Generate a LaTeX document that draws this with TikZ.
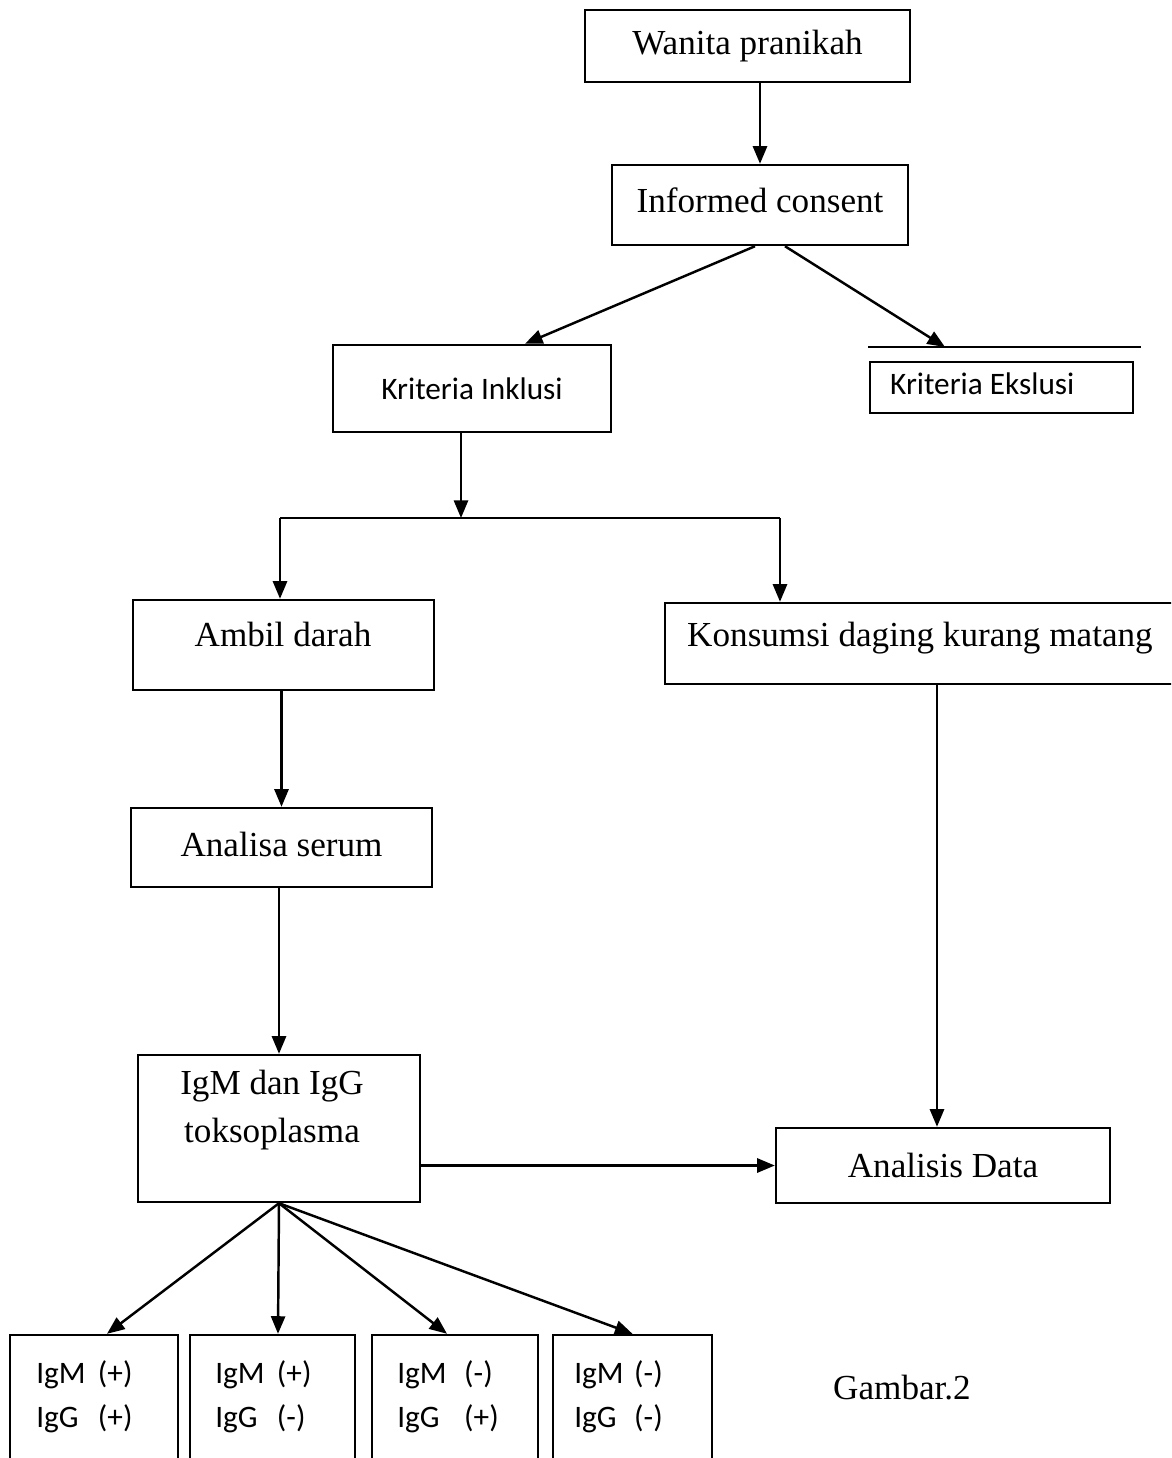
\documentclass[tikz,border=0pt]{standalone}
\usepackage{fontspec}
\setmainfont{Liberation Serif}
\newfontfamily\calib{Carlito}
\usetikzlibrary{arrows.meta}
\begin{document}
\begin{tikzpicture}[x=0.02cm,y=-0.02cm,
  box/.style={draw, line width=1.4pt, inner sep=0pt},
  serif/.style={font=\fontsize{20}{27}\selectfont},
  sans/.style={font=\calib\fontsize{17.8}{25}\selectfont},
  arr/.style={-{Triangle[length=10pt,width=8pt]}, line width=1.4pt},
  ln/.style={line width=1.4pt}]
\clip (0,0) rectangle (1171,1458);
\fill[white] (0,0) rectangle (1171,1458);
% boxes
\node[box, serif, minimum width=6.5cm, minimum height=1.44cm] (w) at (747.5,46) {Wanita pranikah};
\node[box, serif, minimum width=5.92cm, minimum height=1.6cm] (ic) at (760,205) {\raisebox{5pt}{Informed consent}};
\node[box, sans, minimum width=5.56cm, minimum height=1.74cm] (ki) at (472,388.5) {\raisebox{-5pt}{Kriteria Inklusi}};
\node[box, minimum width=5.26cm, minimum height=1.02cm] (ke) at (1001.5,387.5) {};
\node[sans, anchor=west] (ket) at (884,384) {Kriteria Ekslusi};
\coordinate (kel1) at (868,347);
\coordinate (kel2) at (1141,347);
\coordinate (kea) at (945,347);
\draw[ln] (kel1) -- (kel2);
\node[box, minimum width=6.02cm, minimum height=1.8cm] (am) at (283.5,645) {};
\node[serif] (amt) at (283,634) {Ambil darah};
\node[box, minimum width=10.5cm, minimum height=1.62cm] (ko) at (927.5,643.5) {};
\node[serif] (kot) at (920,638) {Konsumsi daging kurang matang};
\node[box, serif, minimum width=6.02cm, minimum height=1.58cm] (an) at (281.5,847.5) {\raisebox{4pt}{Analisa serum}};
\node[box, minimum width=5.64cm, minimum height=2.94cm] (ig) at (279,1128.5) {};
\node[serif, align=center] (igt) at (272,1110) {IgM dan IgG\\toksoplasma};
\node[box, serif, minimum width=6.68cm, minimum height=1.5cm] (ad) at (943,1165.5) {Analisis Data};
% bottom boxes
\node[box, minimum width=3.36cm, minimum height=2.9cm] (b1) at (94,1407.5) {};
\node[box, minimum width=3.3cm, minimum height=2.9cm] (b2) at (272.5,1407.5) {};
\node[box, minimum width=3.32cm, minimum height=2.9cm] (b3) at (455,1407.5) {};
\node[box, minimum width=3.18cm, minimum height=2.9cm] (b4) at (632.5,1407.5) {};
\node[sans, anchor=north west, inner sep=0pt] (t1) at (36,1352) {\begin{tabular}{@{}l@{\hspace{7pt}}l@{}}IgM & (+)\\ IgG & (+)\end{tabular}};
\node[sans, anchor=north west, inner sep=0pt] (t2) at (215,1352) {\begin{tabular}{@{}l@{\hspace{6pt}}l@{}}IgM & (+)\\ IgG\hspace{5pt} & (-)\end{tabular}};
\node[sans, anchor=north west, inner sep=0pt] (t3) at (397,1352) {\begin{tabular}{@{}l@{\hspace{10pt}}l@{}}IgM & (-)\\ IgG & (+)\end{tabular}};
\node[sans, anchor=north west, inner sep=0pt] (t4) at (574,1352) {\begin{tabular}{@{}l@{\hspace{6pt}}l@{}}IgM & (-)\\ IgG & (-)\end{tabular}};
\node[serif] (gb) at (902,1388) {Gambar.2};
% connectors
\draw[arr] (w.south -| ic) -- (ic.north);
\draw[arr] ([xshift=-0.1cm]ic.south) -- ([xshift=1.06cm]ki.north);
\draw[arr] ([xshift=0.5cm]ic.south) -- (kea);
\coordinate (sp) at (461,518);
\coordinate (spl) at (280,518);
\coordinate (spr) at (780,518);
\draw[arr] (ki.south -| sp) -- (sp);
\draw[ln] (spl) -- (spr);
\draw[arr] (spl) -- (am.north -| spl);
\draw[arr] (spr) -- (ko.north -| spr);
\draw[arr] (am.south -| an.north) -- (an.north);
\draw[arr] (an.south -| ig.north) -- (ig.north);
\draw[arr] (ko.south -| 937,0) -- (ad.north -| 937,0);
\draw[arr] (ig.east |- ad.west) -- (ad.west);
\draw[arr] (ig.south) -- ([xshift=0.26cm]b1.north);
\draw[arr] (ig.south) -- ([xshift=0.11cm]b2.north);
\draw[arr] (ig.south) -- ([xshift=-0.16cm]b3.north);
\draw[arr] (ig.south) -- (b4.north);
\end{tikzpicture}
\end{document}
